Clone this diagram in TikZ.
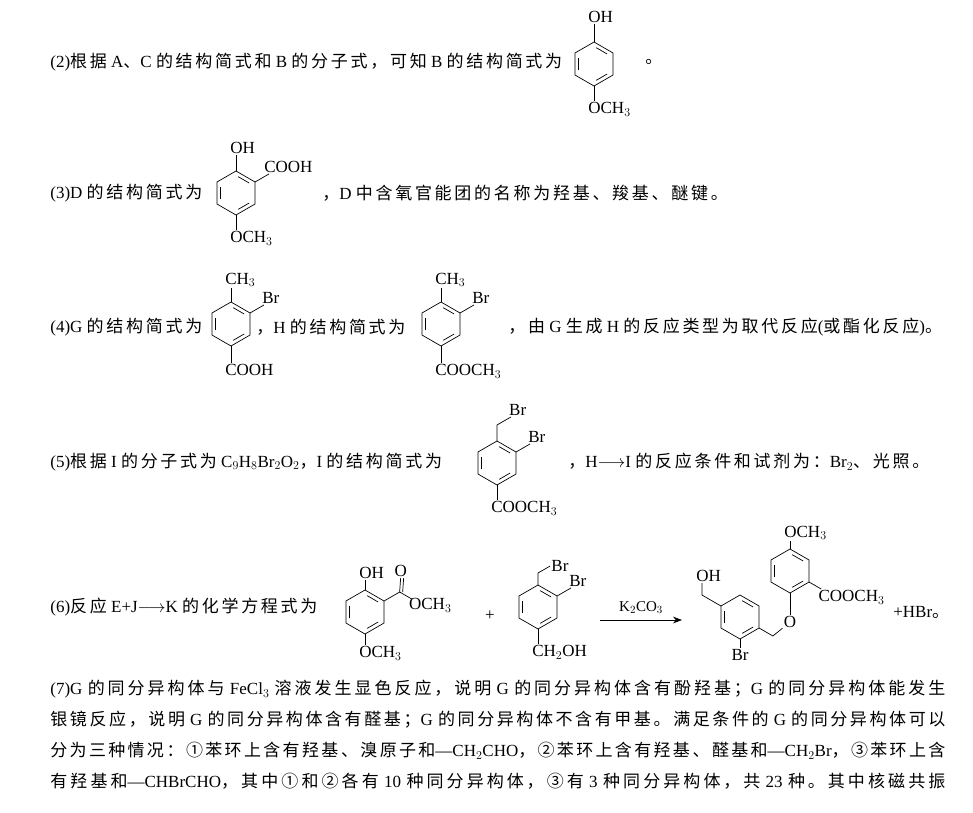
\documentclass[tikz,border=0pt]{standalone}
\usepackage{fontspec}
\setmainfont{Liberation Serif}
\newfontfamily\cjk[LetterSpace=16]{Noto Sans CJK SC}
\usetikzlibrary{calc,arrows.meta}

% switch to the CJK family automatically
\XeTeXinterchartokenstate=1
\newXeTeXintercharclass\cjkcls
\newcount\cc
\def\setcls#1#2{\cc=#1 \loop\XeTeXcharclass\cc=\cjkcls\ifnum\cc<#2 \advance\cc1 \repeat}
\setcls{"4E00}{"9FFF}
\setcls{"3000}{"303F}
\setcls{"FF00}{"FFEF}
\setcls{"2460}{"2473}
\XeTeXinterchartoks 0 \cjkcls = {\begingroup\cjk}
\XeTeXinterchartoks 4095 \cjkcls = {\begingroup\cjk}
\XeTeXinterchartoks \cjkcls 0 = {\endgroup}
\XeTeXinterchartoks \cjkcls 4095 = {\endgroup}
\XeTeXlinebreaklocale "zh"
\XeTeXlinebreakskip=0pt plus 6pt

% benzene ring: name, centre
\newcommand\benzene[2]{%
  \coordinate (#1) at (#2);
  \foreach \i/\a in {1/-90,2/-30,3/30,4/90,5/150,6/210}
    \coordinate (#1-\i) at ($(#1)+(\a:22)$);
  \draw (#1-1) -- (#1-2) -- (#1-3) -- (#1-4) -- (#1-5) -- (#1-6) -- cycle;
  \foreach \p/\q in {1/2,3/4,5/6}
    \draw[shorten <=2.5pt, shorten >=2.5pt] ($(#1-\p)!.2!(#1)$) -- ($(#1-\q)!.2!(#1)$);
}

\begin{document}
\begin{tikzpicture}[
  x=1pt, y=-1pt,
  font=\fontsize{17}{31}\selectfont,
  line width=0.7pt,
  txt/.style={anchor=west, inner sep=0pt},
  lbl/.style={inner sep=1pt}
]
\useasboundingbox (0,0) rectangle (973,812);

% (2)
\node[txt] (t2) at (50,62) {(2)根据 A、C 的结构简式和 B 的分子式，可知 B 的结构简式为};
\benzene{B}{594,64}
\draw (B-1) -- ++(0,-18) node[lbl, anchor=south west, xshift=-7pt] (B-oh) {OH};
\draw (B-4) -- ++(0,15) node[lbl, anchor=north west, xshift=-7pt] (B-och) {OCH$_3$};
\node[txt] (t2b) at (645,62) {。};

% (3)
\node[txt] (t3) at (50,193) {(3)D 的结构简式为};
\benzene{D}{236,193}
\draw (D-1) -- ++(0,-16) node[lbl, anchor=south west, xshift=-7pt] (D-oh) {OH};
\draw (D-2) -- ++(-30:16) node[lbl, anchor=south west, xshift=-6pt] (D-cooh) {COOH};
\draw (D-4) -- ++(0,15) node[lbl, anchor=north west, xshift=-7pt] (D-och) {OCH$_3$};
\node[txt] (t3b) at (322,193) {，D 中含氧官能团的名称为羟基、羧基、醚键。};

% (4)
\node[txt] (t4) at (50,327) {(4)G 的结构简式为};
\benzene{G}{231,324}
\draw (G-1) -- ++(0,-14) node[lbl, anchor=south west, xshift=-7pt] (G-me) {CH$_3$};
\draw (G-2) -- ++(-30:16) node[lbl, anchor=south west, xshift=-3pt] (G-br) {Br};
\draw (G-4) -- ++(0,17) node[lbl, anchor=north west, xshift=-7pt] (G-cooh) {COOH};
\node[txt] (t4b) at (256,327) {，H 的结构简式为};
\benzene{H}{441,324}
\draw (H-1) -- ++(0,-14) node[lbl, anchor=south west, xshift=-7pt] (H-me) {CH$_3$};
\draw (H-2) -- ++(-30:16) node[lbl, anchor=south west, xshift=-3pt] (H-br) {Br};
\draw (H-4) -- ++(0,17) node[lbl, anchor=north west, xshift=-7pt] (H-ester) {COOCH$_3$};
\node[txt] (t4c) at (508,327) {，由 G 生成 H 的反应类型为取代反应(或酯化反应)。};

% (5)
\node[txt] (t5) at (50,462) {(5)根据 I 的分子式为 C$_9$H$_8$Br$_2$O$_2$，I 的结构简式为};
\benzene{I}{497,463}
\draw (I-1) -- ++(0,-16) -- ++(-30:16) node[lbl, anchor=south west, xshift=-3pt] (I-br1) {Br};
\draw (I-2) -- ++(-30:16) node[lbl, anchor=south west, xshift=-3pt] (I-br2) {Br};
\draw (I-4) -- ++(0,15) node[lbl, anchor=north west, xshift=-7pt] (I-ester) {COOCH$_3$};
\node[txt] (t5b) at (568,462) {，H$\longrightarrow$I 的反应条件和试剂为：Br$_2$、光照。};

% (6)
\node[txt] (t6) at (50,607) {(6)反应 E+J$\longrightarrow$K 的化学方程式为};
\benzene{E}{365,612}
\draw (E-1) -- ++(0,-10) node[lbl, anchor=south west, xshift=-7pt] (E-oh) {OH};
\draw (E-2) -- ++(-30:18) coordinate (E-c);
\node[lbl, anchor=south] (E-o) at ($(E-c)+(1,-14)$) {O};
\draw (E-c) -- (E-o.south);
\draw ($(E-c)+(3,0)$) -- ($(E-o.south)+(3,0)$);
\draw (E-c) -- ++(30:14) node[lbl, anchor=north west, xshift=-4pt, yshift=2pt] (E-och) {OCH$_3$};
\draw (E-4) -- ++(0,11) node[lbl, anchor=north west, xshift=-7pt] (E-och2) {OCH$_3$};
\node (plus) at (490,616) {+};

\benzene{J}{538,607}
\draw (J-1) -- ++(0,-12) -- ++(-30:14) node[lbl, anchor=west] (J-br1) {Br};
\draw (J-2) -- ++(-30:16) node[lbl, anchor=south west, xshift=-3pt] (J-br2) {Br};
\draw (J-4) -- ++(0,15) node[lbl, anchor=north west, xshift=-7pt] (J-oh) {CH$_2$OH};

\coordinate (ar1) at (600,620);
\coordinate (ar2) at (682,620);
\draw[-{Stealth[length=9pt]}] (ar1) -- (ar2) node[midway, above=3pt, font=\fontsize{15}{15}\selectfont] (cat) {K$_2$CO$_3$};

\benzene{KA}{740,617}
\draw (KA-6) -- ++(-150:22) -- ++(0,-12) node[lbl, anchor=south west, xshift=-7pt] (KA-oh) {OH};
\draw (KA-4) -- ++(0,9) node[lbl, anchor=north] (KA-br) {Br};
\benzene{KB}{790,571}
\node[lbl] (KO) at (790,622) {O};
\draw (KA-3) -- ++(30:16) -- (KO);
\draw (KB-4) -- (KO);
\draw (KB-1) -- ++(0,-8) node[lbl, anchor=south west, xshift=-7pt] (KB-och) {OCH$_3$};
\draw (KB-3) -- ++(30:14) node[lbl, anchor=north west, xshift=-4pt] (KB-ester) {COOCH$_3$};
\node[txt] (t6b) at (893,612) {+HBr。};

% (7)
\node[anchor=north west, inner sep=0pt, text width=895pt, align=justify] (t7) at (50,680)
{(7)G 的同分异构体与 FeCl$_3$ 溶液发生显色反应，说明 G 的同分异构体含有酚羟基；G 的同分异构体能发生\linebreak
银镜反应，说明 G 的同分异构体含有醛基；G 的同分异构体不含有甲基。满足条件的 G 的同分异构体可以\linebreak
分为三种情况：①苯环上含有羟基、溴原子和—CH$_2$CHO，②苯环上含有羟基、醛基和—CH$_2$Br，③苯环上含\linebreak
有羟基和—CHBrCHO，其中①和②各有 10 种同分异构体，③有 3 种同分异构体，共 23 种。其中核磁共振\parfillskip=0pt\par};
\end{tikzpicture}
\end{document}
